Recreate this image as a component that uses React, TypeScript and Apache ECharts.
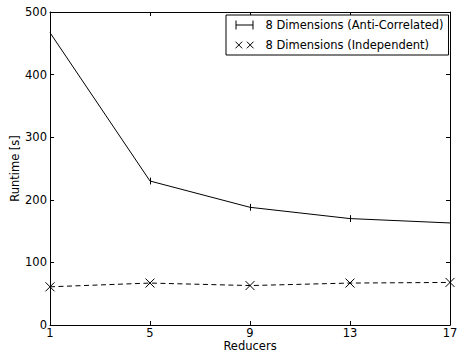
import React, { useEffect, useRef } from "react";
import * as echarts from "echarts";

const reducers = [1, 5, 9, 13, 17];
const antiCorrelated = [467, 230, 188, 170, 163];
const antiCorrelatedErr = [5.5, 5.5, 5.5, 5.5, 5.5];
const independent = [61, 67, 63, 67, 68];
const seriesNames = ["8 Dimensions (Anti-Correlated)", "8 Dimensions (Independent)"];

const FONT = "DejaVu Sans";
const FS = 11.5;

export default function App() {
  const ref = useRef<HTMLDivElement>(null);
  useEffect(() => {
    if (!ref.current) return;
    const chart = echarts.init(ref.current, undefined, { renderer: "svg" });
    const axisCommon = {
      type: "value" as const,
      axisLine: { show: true, onZero: false, lineStyle: { color: "#000", width: 1 } },
      axisTick: { show: true, inside: true, length: 4, lineStyle: { color: "#000", width: 1 } },
      splitLine: { show: false },
    };
    const xCommon = { ...axisCommon, min: 1, max: 17, interval: 4 };
    const yCommon = { ...axisCommon, min: 0, max: 500, interval: 100 };
    chart.setOption({
      animation: false,
      backgroundColor: "#fff",
      grid: { left: 50, right: 7, top: 12, bottom: 28, containLabel: false, outerBoundsMode: "none" },
      xAxis: [
        {
          ...xCommon,
          position: "bottom",
          name: "Reducers",
          nameLocation: "middle",
          nameGap: 14,
          nameMoveOverlap: false,
          nameTextStyle: { fontFamily: FONT, fontSize: FS, color: "#000", lineHeight: 13 },
          axisLabel: { show: true, margin: 2, fontFamily: FONT, fontSize: FS, color: "#000", lineHeight: 11.5 },
        },
        { ...xCommon, position: "top", axisLabel: { show: false } },
      ],
      yAxis: [
        {
          ...yCommon,
          position: "left",
          name: "Runtime [s]",
          nameLocation: "middle",
          nameGap: 29,
          nameMoveOverlap: false,
          nameTextStyle: { fontFamily: FONT, fontSize: FS, color: "#000" },
          axisLabel: { show: true, margin: 3, fontFamily: FONT, fontSize: FS, color: "#000" },
        },
        { ...yCommon, position: "right", axisLabel: { show: false } },
      ],
      legend: {
        orient: "vertical",
        left: 226,
        top: 15,
        padding: [4, 5, 4, 7],
        itemGap: 8,
        itemWidth: 18,
        itemHeight: 9,
        borderColor: "#000",
        borderWidth: 1,
        borderRadius: 0,
        backgroundColor: "#fff",
        textStyle: { fontFamily: FONT, fontSize: FS, color: "#000", padding: [0, 0, 0, 7] },
        data: [
          {
            name: seriesNames[0],
            icon: "path://M0,0h1v4h16v-4h1v9h-1v-4h-16v4h-1z",
            itemStyle: { color: "#000", borderWidth: 0 },
          },
          {
            name: seriesNames[1],
            icon: "path://M0,0L7,7M0,7L7,0M12,0L19,7M12,7L19,0",
            itemStyle: { color: "none", borderColor: "#000", borderWidth: 1 },
          },
        ],
      },
      series: [
        {
          name: seriesNames[0],
          type: "line",
          data: reducers.map((r, i) => [r, antiCorrelated[i]]),
          symbol: "none",
          lineStyle: { color: "#000", width: 1 },
          itemStyle: { color: "#000" },
          z: 3,
        },
        {
          name: seriesNames[0] + " error",
          type: "custom",
          data: reducers.map((r, i) => [r, antiCorrelated[i], antiCorrelatedErr[i]]),
          renderItem: (params: any, api: any) => {
            const x = api.value(0);
            const y = api.value(1);
            const e = api.value(2);
            const p1 = api.coord([x, y + e]);
            const p2 = api.coord([x, y - e]);
            const px = Math.round(p1[0]) + 0.5;
            return {
              type: "line",
              shape: { x1: px, y1: p1[1], x2: px, y2: p2[1] },
              style: { stroke: "#000", lineWidth: 1 },
            };
          },
          z: 4,
        },
        {
          name: seriesNames[1],
          type: "line",
          data: reducers.map((r, i) => [r, independent[i]]),
          symbol: "path://M0,0L10,10M0,10L10,0",
          symbolSize: 9,
          showAllSymbol: true,
          lineStyle: { color: "#000", width: 1, type: [5, 3.5] },
          itemStyle: { color: "none", borderColor: "#000", borderWidth: 1 },
          z: 3,
        },
      ],
    });
    return () => chart.dispose();
  }, []);
  return (
    <div
      ref={ref}
      style={{ position: "fixed", left: 0, top: 0, width: 457, height: 353 }}
    />
  );
}
